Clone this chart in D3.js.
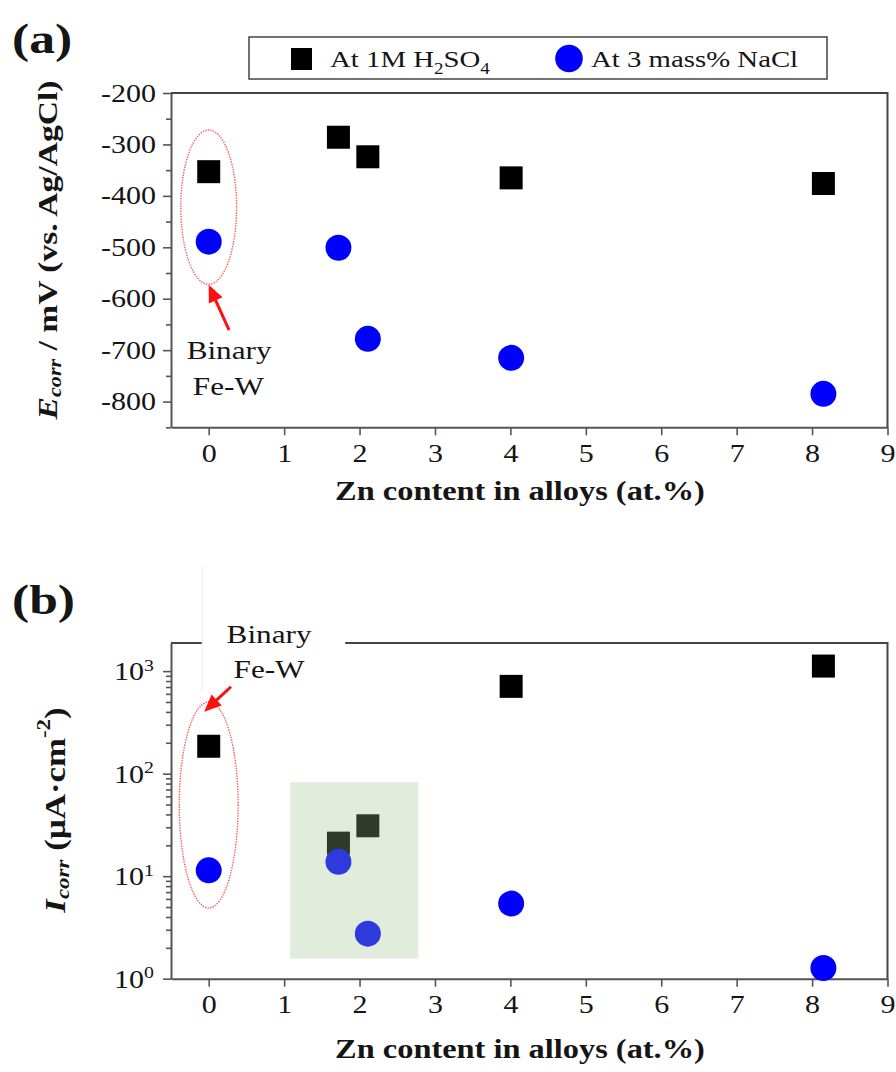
<!DOCTYPE html>
<html>
<head>
<meta charset="utf-8">
<script src="https://cdn.jsdelivr.net/npm/d3@7"></script>
<style>
  body { margin: 0; background: #fff; }
  svg { display: block; }
  text { font-family: "Liberation Serif", "Times New Roman", serif; fill: #151515; }
</style>
</head>
<body>
<svg id="chart" width="896" height="1072"></svg>
<script>
// Zn content of the alloys (at.%)
const zn = [0, 1.72, 2.11, 4.01, 8.15];
// Corrosion potential, mV vs. Ag/AgCl
const ecorrH2SO4 = [-353, -286, -324, -365, -376];
const ecorrNaCl = [-489, -501, -678, -715, -785];
// Corrosion current density, uA/cm2
const icorrH2SO4 = [185, 21, 31, 710, 1120];
const icorrNaCl = [11.4, 13.8, 2.75, 5.4, 1.27];

const xTicks = [0, 1, 2, 3, 4, 5, 6, 7, 8, 9];
const eTicks = [-200, -300, -400, -500, -600, -700, -800];
const eMinor = [-250, -350, -450, -550, -650, -750, -850];
const iTicks = [1, 10, 100, 1000];
const iTickExp = ["0", "1", "2", "3"];

// Annotation for the binary Fe-W alloy (data units)
const binaryA = { cx: 0, cy: -422, rx: 0.37, ry: 150,
  arrowFrom: [0.27, -661], arrowTo: [0.0, -573],
  line1: [0.27, -700], line2: [0.26, -770] };
const binaryB = { cx: 0, lo: 4.9, hi: 500, rx: 0.39,
  arrowFrom: [0.295, 704], arrowTo: [-0.06, 402],
  line1: [0.8, 2300], line2: [0.8, 1060],
  box: { x0: -0.087, x1: 1.81, y0: 640, y1: 10500 } };
// Shaded group of the low-Zn ternary alloys in panel (b)
const shadeB = { x0: 1.08, x1: 2.78, y0: 1.57, y1: 82.5 };

const SX = 1.2;          // glyphs are widened horizontally
const BLUE = "#0000ff";
const AXIS = "#555";
const svg = d3.select("#chart");

function addText(parent, x, y, size, opts = {}) {
  const t = parent.append("text")
    .attr("transform", `translate(${x},${y})` + (opts.rot ? ` rotate(${opts.rot})` : "") + ` scale(${SX},1)`)
    .attr("font-size", size)
    .attr("text-anchor", opts.anchor || "middle")
    .attr("font-weight", opts.weight || "normal");
  if (opts.baseline) t.attr("dominant-baseline", opts.baseline);
  return t;
}
// parts: [text, kind] where kind is "", "i", "sub", "isub", "sup"
function rich(t, parts, size) {
  let shift = 0;
  parts.forEach(([s, kind]) => {
    const sp = t.append("tspan").text(s);
    let target = 0;
    if (kind === "sub" || kind === "isub") target = size * 0.28;
    if (kind === "sup") target = -size * 0.38;
    if (kind === "i" || kind === "isub") sp.attr("font-style", "italic");
    if (kind === "sub" || kind === "isub" || kind === "sup") sp.attr("font-size", size * 0.66);
    if (target !== shift) { sp.attr("dy", target - shift); shift = target; }
  });
  return t;
}
function widenLabels(sel) {
  sel.selectAll(".tick text").each(function () {
    const n = d3.select(this);
    const x = +n.attr("x") || 0, y = +n.attr("y") || 0;
    n.attr("x", 0).attr("y", 0).attr("transform", `translate(${x},${y}) scale(${SX},1)`);
  });
}
function styleAxis(g) {
  g.select(".domain").attr("stroke", AXIS).attr("stroke-width", 2);
  g.selectAll(".tick line").attr("stroke", AXIS).attr("stroke-width", 1.6);
  g.selectAll(".tick text").attr("font-size", 25).attr("fill", "#151515")
    .attr("font-family", '"Liberation Serif", "Times New Roman", serif');
}
function arrow(g, p0, p1) {
  const dx = p1[0] - p0[0], dy = p1[1] - p0[1];
  const L = Math.hypot(dx, dy), ux = dx / L, uy = dy / L;
  const hl = 17, hw = 7.5;
  const bx = p1[0] - ux * hl, by = p1[1] - uy * hl;
  g.append("line").attr("x1", p0[0]).attr("y1", p0[1]).attr("x2", bx + ux * 2).attr("y2", by + uy * 2)
    .attr("stroke", "#ff1010").attr("stroke-width", 3);
  g.append("polygon")
    .attr("points", [[p1[0], p1[1]], [bx - uy * hw, by + ux * hw], [bx + uy * hw, by - ux * hw]].map(p => p.join(",")).join(" "))
    .attr("fill", "#ff1010");
}

const xA = d3.scaleLinear([-0.5, 9], [171, 887.5]);
const yA = d3.scaleLinear([-850, -200], [427.3, 93]);
const yB = d3.scaleLog([1, 1880], [978.7, 643]);

/* ---------------- panel (a) ---------------- */
const gA = svg.append("g");
addText(gA, 12, 53, 43, { anchor: "start", weight: "bold" }).text("(a)");

// frame top/right
gA.append("path")
  .attr("d", `M${xA(-0.5)},${yA(-200)}H${xA(9)}V${yA(-850)}`)
  .attr("fill", "none").attr("stroke", "#444").attr("stroke-width", 2);

const axA = gA.append("g").attr("transform", `translate(${xA(-0.5)},0)`)
  .call(d3.axisLeft(yA).tickValues(eTicks).tickSize(8).tickSizeOuter(0).tickPadding(7).tickFormat(d => String(d)));
styleAxis(axA); widenLabels(axA);
const axAm = gA.append("g").attr("transform", `translate(${xA(-0.5)},0)`)
  .call(d3.axisLeft(yA).tickValues(eMinor).tickSize(5).tickSizeOuter(0).tickFormat(""));
styleAxis(axAm); axAm.select(".domain").remove();

const axAx = gA.append("g").attr("transform", `translate(0,${yA(-850)})`)
  .call(d3.axisBottom(xA).tickValues(xTicks).tickSize(8).tickSizeOuter(0).tickPadding(9));
styleAxis(axAx); widenLabels(axAx);

addText(gA, 520, 500, 27, { weight: "bold" }).text("Zn content in alloys (at.%)");
rich(addText(gA, 47, 250, 28, { weight: "bold", rot: -90, baseline: "central" }),
  [["E", "i"], ["corr", "isub"], [" / mV (vs. Ag/AgCl)", ""]], 28);

// binary Fe-W annotation
gA.append("ellipse")
  .attr("cx", xA(binaryA.cx)).attr("cy", yA(binaryA.cy))
  .attr("rx", xA(binaryA.rx) - xA(0)).attr("ry", yA(binaryA.cy - binaryA.ry) - yA(binaryA.cy))
  .attr("fill", "none").attr("stroke", "#ff5a5a").attr("stroke-width", 1.4).attr("stroke-dasharray", "1.4,1.2");
arrow(gA, [xA(binaryA.arrowFrom[0]), yA(binaryA.arrowFrom[1])], [xA(binaryA.arrowTo[0]), yA(binaryA.arrowTo[1])]);
addText(gA, xA(binaryA.line1[0]), yA(binaryA.line1[1]), 26, { baseline: "central" }).text("Binary");
addText(gA, xA(binaryA.line2[0]), yA(binaryA.line2[1]), 26, { baseline: "central" }).text("Fe-W");

// markers
gA.selectAll("rect.h2so4").data(zn).join("rect").attr("class", "h2so4")
  .attr("x", d => xA(d) - 11.5).attr("y", (d, i) => yA(ecorrH2SO4[i]) - 11.5)
  .attr("width", 23).attr("height", 23).attr("fill", "#000");
gA.selectAll("circle.nacl").data(zn).join("circle").attr("class", "nacl")
  .attr("cx", d => xA(d)).attr("cy", (d, i) => yA(ecorrNaCl[i])).attr("r", 13).attr("fill", BLUE);

// legend
const lg = gA.append("g");
lg.append("rect").attr("x", 249).attr("y", 37).attr("width", 578).attr("height", 42)
  .attr("fill", "#fff").attr("stroke", "#444").attr("stroke-width", 1.5);
lg.append("rect").attr("x", 291).attr("y", 48).attr("width", 21).attr("height", 22).attr("fill", "#000");
rich(addText(lg, 330, 67, 24, { anchor: "start" }),
  [["At 1M H", ""], ["2", "sub"], ["SO", ""], ["4", "sub"]], 24);
lg.append("circle").attr("cx", 569).attr("cy", 58.5).attr("r", 13.8).attr("fill", BLUE);
addText(lg, 591, 67, 24, { anchor: "start" }).text("At 3 mass% NaCl");

/* ---------------- panel (b) ---------------- */
const gB = svg.append("g");
addText(gB, 12, 614, 43, { anchor: "start", weight: "bold" }).text("(b)");

gB.append("path")
  .attr("d", `M${xA(-0.5)},${yB(1880)}H${xA(9)}V${yB(1)}`)
  .attr("fill", "none").attr("stroke", "#444").attr("stroke-width", 2);

const axB = gB.append("g").attr("transform", `translate(${xA(-0.5)},0)`)
  .call(d3.axisLeft(yB).tickValues(iTicks).tickSize(8).tickSizeOuter(0).tickFormat(""));
styleAxis(axB);
const minorB = yB.ticks().filter(v => !iTicks.includes(v));
const axBm = gB.append("g").attr("transform", `translate(${xA(-0.5)},0)`)
  .call(d3.axisLeft(yB).tickValues(minorB).tickSize(5).tickSizeOuter(0).tickFormat(""));
styleAxis(axBm); axBm.select(".domain").remove();
iTicks.forEach((v, i) => {
  rich(addText(gB, 154, yB(v) + 9, 25, { anchor: "end" }), [["10", ""], [iTickExp[i], "sup"]], 25);
});

const axBx = gB.append("g").attr("transform", `translate(0,${yB(1)})`)
  .call(d3.axisBottom(xA).tickValues(xTicks).tickSize(8).tickSizeOuter(0).tickPadding(9));
styleAxis(axBx); widenLabels(axBx);

addText(gB, 520, 1058, 27, { weight: "bold" }).text("Zn content in alloys (at.%)");
rich(addText(gB, 55, 810, 29, { weight: "bold", rot: -90, baseline: "central" }),
  [["I", "i"], ["corr", "isub"], [" (\u00b5A\u00b7cm", ""], ["-2", "sup"], [")", ""]], 29);

// markers
gB.selectAll("rect.h2so4").data(zn).join("rect").attr("class", "h2so4")
  .attr("x", d => xA(d) - 11.5).attr("y", (d, i) => yB(icorrH2SO4[i]) - 11.5)
  .attr("width", 23).attr("height", 23).attr("fill", "#000");
gB.selectAll("circle.nacl").data(zn).join("circle").attr("class", "nacl")
  .attr("cx", d => xA(d)).attr("cy", (d, i) => yB(icorrNaCl[i])).attr("r", 13).attr("fill", BLUE);

// translucent green highlight over the low-Zn alloys
gB.append("rect")
  .attr("x", xA(shadeB.x0)).attr("y", yB(shadeB.y1))
  .attr("width", xA(shadeB.x1) - xA(shadeB.x0)).attr("height", yB(shadeB.y0) - yB(shadeB.y1))
  .attr("fill", "#9dc18c").attr("opacity", 0.3);

// binary Fe-W annotation with its white label box
const bb = binaryB.box;
gB.append("rect").attr("x", xA(bb.x0)).attr("y", yB(bb.y1))
  .attr("width", xA(bb.x1) - xA(bb.x0)).attr("height", yB(bb.y0) - yB(bb.y1)).attr("fill", "#fff");
gB.append("line").attr("x1", xA(bb.x0)).attr("x2", xA(bb.x0)).attr("y1", yB(bb.y1)).attr("y2", yB(bb.y0))
  .attr("stroke", "#ececec").attr("stroke-width", 1);
const eyTop = yB(binaryB.hi), eyBot = yB(binaryB.lo);
gB.append("ellipse")
  .attr("cx", xA(binaryB.cx)).attr("cy", (eyTop + eyBot) / 2)
  .attr("rx", xA(binaryB.rx) - xA(0)).attr("ry", (eyBot - eyTop) / 2)
  .attr("fill", "none").attr("stroke", "#ff5a5a").attr("stroke-width", 1.4).attr("stroke-dasharray", "1.4,1.2");
arrow(gB, [xA(binaryB.arrowFrom[0]), yB(binaryB.arrowFrom[1])], [xA(binaryB.arrowTo[0]), yB(binaryB.arrowTo[1])]);
addText(gB, xA(binaryB.line1[0]), yB(binaryB.line1[1]), 26, { baseline: "central" }).text("Binary");
addText(gB, xA(binaryB.line2[0]), yB(binaryB.line2[1]), 26, { baseline: "central" }).text("Fe-W");
</script>
</body>
</html>
